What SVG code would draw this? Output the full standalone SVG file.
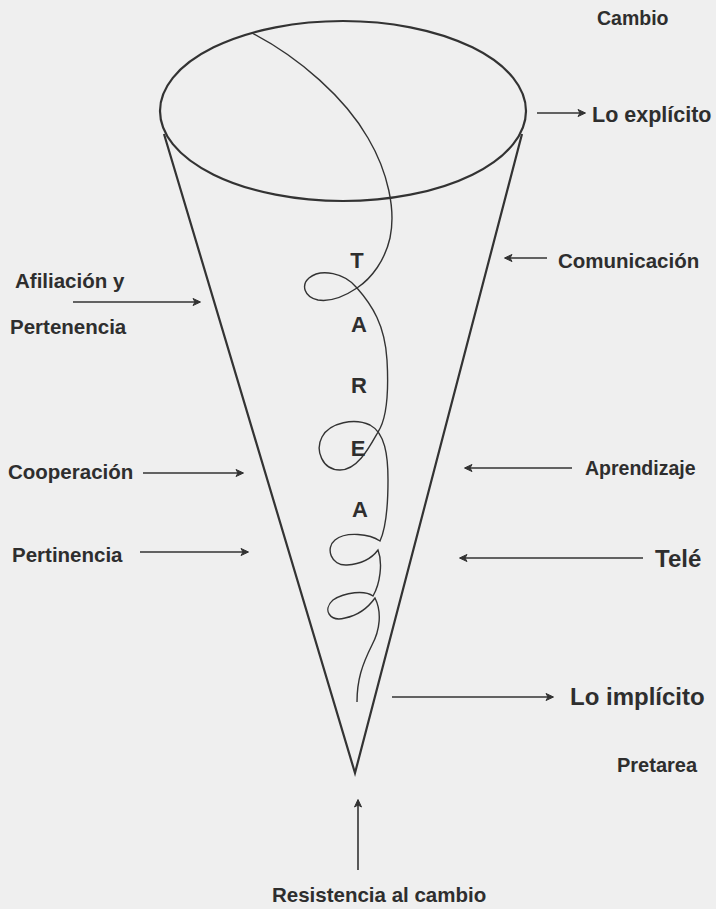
<svg xmlns="http://www.w3.org/2000/svg" width="716" height="909" viewBox="0 0 716 909">
<style>
.t{font-family:"Liberation Sans",Arial,sans-serif;font-weight:bold;fill:#2e2e2e}
.l{fill:none;stroke:#2a2a2a;stroke-width:1.6}
.c{fill:none;stroke:#333;stroke-width:2.2}
.k{fill:none;stroke:#333;stroke-width:1.4}
.a{fill:none;stroke:#333;stroke-width:1.6;marker-end:url(#ah)}
</style>
<defs>
<marker id="ah" markerWidth="10" markerHeight="10" refX="8" refY="5" orient="auto" markerUnits="userSpaceOnUse">
<path d="M1,1.5 L8.5,5 L1,8.5 L3,5 Z" fill="#333" stroke="#333" stroke-width="1"/>
</marker>
</defs>
<rect width="716" height="909" fill="#efefef"/>
<g id="cone">
<ellipse class="c" cx="343" cy="111" rx="183" ry="90"/>
<path class="c" d="M164,134 L355,773 L522,134"/>
</g>
<g id="thread">
<path class="k" d="M252,33 C300,58 345,98 368,138 C388,172 396,210 390,238 C385,260 372,278 357,288 C345,296 330,302 318,300 C304,297 301,285 309,278 C321,268 345,273 357,288 C372,305 385,325 387,360 C389,395 386,420 378,432 C370,446 358,470 340,470 C322,470 315,450 322,437 C330,422 355,418 370,425 C385,433 388,455 388,480 C388,505 386,528 380,541 C370,534 346,531 335,540 C325,548 331,566 347,565 C362,564 372,558 378,550 C383,563 380,584 373,596 C365,590 345,592 333,600 C322,610 330,622 345,618 C360,615 370,605 375,598 C382,612 380,630 372,645 C362,665 357,680 357,702"/>
</g>
<g id="tarea">
<text class="t" x="357" y="268" font-size="22" text-anchor="middle">T</text>
<text class="t" x="359" y="332" font-size="22" text-anchor="middle">A</text>
<text class="t" x="359" y="393" font-size="22" text-anchor="middle">R</text>
<text class="t" x="358" y="456" font-size="22" text-anchor="middle">E</text>
<text class="t" x="360" y="517" font-size="22" text-anchor="middle">A</text>
</g>
<g id="connectors">
<line class="a" x1="537" y1="113" x2="585" y2="113"/>
<line class="a" x1="547" y1="258" x2="505" y2="258"/>
<line class="a" x1="73" y1="302" x2="200" y2="302"/>
<line class="a" x1="143" y1="473" x2="243" y2="473"/>
<line class="a" x1="140" y1="552" x2="248" y2="552"/>
<line class="a" x1="572" y1="468" x2="465" y2="468"/>
<line class="a" x1="643" y1="558" x2="460" y2="558"/>
<line class="a" x1="392" y1="697" x2="553" y2="697"/>
<line class="a" x1="358" y1="870" x2="358" y2="800"/>
</g>
<g id="cambio"><text class="t" x="597" y="25" font-size="19.5" fill="#444">Cambio</text></g>
<g id="explicito"><text class="t" x="592" y="122" font-size="21.5">Lo explícito</text></g>
<g id="comunicacion"><text class="t" x="558" y="268" font-size="20.5">Comunicación</text></g>
<g id="afiliacion"><text class="t" x="15" y="288" font-size="20.5">Afiliación y</text>
<text class="t" x="10" y="334" font-size="20.5">Pertenencia</text></g>
<g id="cooperacion"><text class="t" x="8" y="479" font-size="20.5">Cooperación</text></g>
<g id="pertinencia"><text class="t" x="12" y="562" font-size="20.5">Pertinencia</text></g>
<g id="aprendizaje"><text class="t" x="585" y="475" font-size="19.5">Aprendizaje</text></g>
<g id="tele"><text class="t" x="655" y="567" font-size="24">Telé</text></g>
<g id="implicito"><text class="t" x="570" y="705" font-size="24">Lo implícito</text></g>
<g id="pretarea"><text class="t" x="617" y="772" font-size="20">Pretarea</text></g>
<g id="resistencia"><text class="t" x="272" y="902" font-size="20.5">Resistencia al cambio</text></g>
</svg>
